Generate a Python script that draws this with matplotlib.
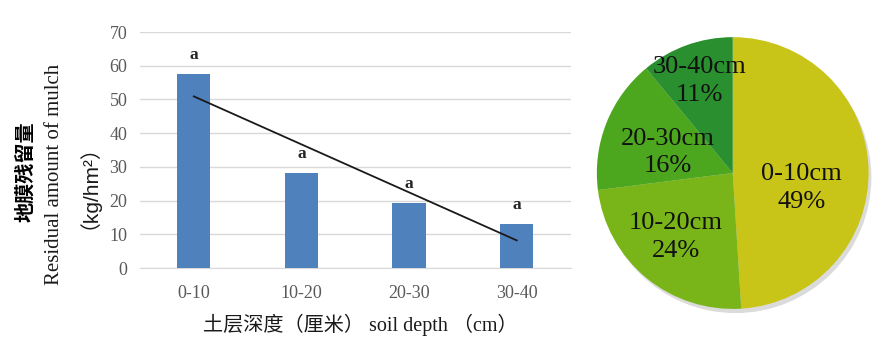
"""
Residual mulch by soil depth: bar chart with linear trend, plus share pie.
"""
import numpy as np
import matplotlib
matplotlib.use('Agg')
import matplotlib.pyplot as plt
import matplotlib.patheffects as pe
from matplotlib.patches import Circle

# data
depths = ['0-10', '10-20', '20-30', '30-40']
residual = [57.6, 28.2, 19.3, 13.1]
letters = ['a', 'a', 'a', 'a']
pie_labels = ['0-10cm', '10-20cm', '20-30cm', '30-40cm']
pie_pct = [49, 24, 16, 11]

serif_cjk = ['Liberation Serif', 'Noto Sans CJK SC']
plt.rcParams['font.family'] = serif_cjk

fig = plt.figure(figsize=(8.86, 3.46), dpi=100)

# ---- bar chart ----
ax = fig.add_axes([0.158, 0.2254, 0.486, 0.6821])
x = np.arange(len(depths))
ax.bar(x, residual, width=0.31, color='#4F81BD', zorder=3)
ax.set_xlim(-0.5, len(depths) - 0.5)
ax.set_ylim(0, 70)
ax.set_yticks(np.arange(0, 71, 10))
ax.set_xticks(x)
ax.set_xticklabels(depths)
ax.yaxis.grid(True, color='#D9D9D9', lw=1, zorder=0)
for s in ['top', 'right', 'left']:
    ax.spines[s].set_visible(False)
ax.spines['bottom'].set_color('#D9D9D9')
ax.tick_params(length=0, labelsize=13, colors='#595959')
ax.tick_params(axis='x', pad=12)
ax.tick_params(axis='y', pad=9)

for xi, v, l in zip(x, residual, letters):
    ax.annotate(l, (xi, v), xytext=(0, 8), textcoords='offset points',
                ha='center', va='bottom', fontsize=12.5, fontweight='bold',
                color='#262626')

# linear trend line over the bars
k, b = np.polyfit(x, residual, 1)
ax.plot(x[[0, -1]], k * x[[0, -1]] + b, color='#1a1a1a', lw=1.3, zorder=4)

fig.text(0.407, 0.06, '土层深度（厘米） soil depth （cm）', ha='center',
         va='center', fontsize=14.5, color='#1a1a1a')
fig.text(0.028, 0.503, '地膜残留量', rotation=90, ha='center', va='center',
         fontsize=14.5, color='black', family='Noto Sans CJK SC',
         fontweight='bold')
fig.text(0.061, 0.495, 'Residual amount of mulch', rotation=90, ha='center',
         va='center', fontsize=15, color='#1a1a1a')
fig.text(0.088, 0.491, '（kg/hm²）', rotation=90, ha='center', va='center',
         fontsize=15, color='#1a1a1a',
         family=['Liberation Sans', 'Noto Sans CJK SC'])

# ---- pie chart ----
pax = fig.add_axes([0.669, 0.0954, 0.316, 0.809])
colors = ['#C8C418', '#79B518', '#4CA71F', '#2A8F2E']
wedges, texts = pax.pie(pie_pct, colors=colors, startangle=90,
                        counterclock=False,
                        wedgeprops=dict(linewidth=0),
                        labels=['%s\n%d%%' % (n, p) for n, p in
                                zip(pie_labels, pie_pct)],
                        labeldistance=0.6)
# soft drop shadow under the whole pie
shade = Circle((0, 0), 1, color='white', zorder=0,
               path_effects=[pe.SimplePatchShadow(offset=(2, -3), alpha=0.2)])
pax.add_patch(shade)
# label placement: distance from centre and angle nudge (deg)
label_r = [0.52, 0.63, 0.50, 0.72]
label_nudge = [-14, -2, 4, 0]
for t, w, r, d in zip(texts, wedges, label_r, label_nudge):
    ang = np.deg2rad((w.theta1 + w.theta2) / 2 + d)
    t.set_position((r * np.cos(ang), r * np.sin(ang)))
    t.set_ha('center')
    t.set_va('center')
    t.set_fontsize(19)
    t.set_linespacing(1.35)
    t.set_color('#111111')
pax.set_xlim(-1.03, 1.03)
pax.set_ylim(-1.03, 1.03)

fig.savefig('out.png', dpi=100)
